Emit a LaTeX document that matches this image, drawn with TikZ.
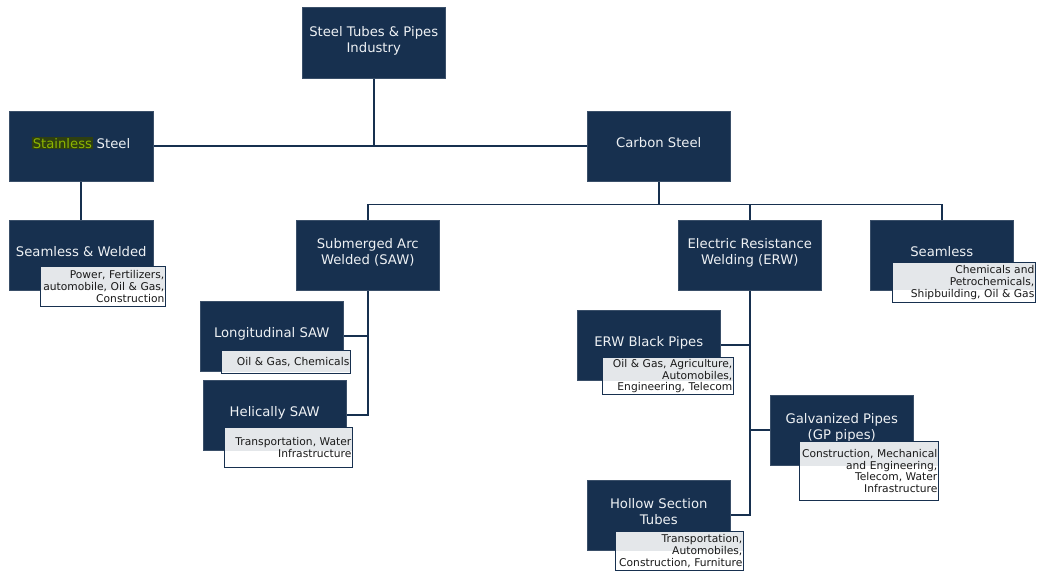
\documentclass[tikz,border=0pt]{standalone}
\usepackage{fontspec}
\setmainfont{DejaVu Sans}
\usetikzlibrary{backgrounds}
\definecolor{navy}{HTML}{17304F}
\definecolor{lgray}{HTML}{E4E7EA}
\definecolor{boxtext}{HTML}{EEF1F4}
\definecolor{hlbg}{HTML}{2F4010}
\definecolor{hlfg}{HTML}{8DB600}
\newcommand{\boxfont}{\fontsize{13.2}{16}\selectfont}
\newcommand{\labfont}{\fontsize{10.7}{11.7}\selectfont}
\newcommand{\rl}[1]{\leavevmode\hbox to \linewidth{\hss #1}}
\tikzset{
  catbox/.style={anchor=north west, fill=navy, draw=navy!85!white, line width=0.5pt,
    text=boxtext, align=center, font=\boxfont, minimum width=143pt, minimum height=70pt,
    inner sep=2pt, text depth=7pt},
  lab/.style n args={3}{anchor=north west, draw=navy, line width=1.1pt, fill=white,
    inner xsep=1.2pt, inner ysep=0pt, align=right, font=\labfont, text=black!90,
    text width=#2pt-2.4pt, minimum height=#3pt,
    path picture={\fill[lgray] (path picture bounding box.north west) rectangle (path picture bounding box.east |- #1.south);}},
  conn/.style={draw=navy, line width=1.6pt}
}
\begin{document}
\begin{tikzpicture}[x=1pt,y=-1pt]
\useasboundingbox (0,0) rectangle (1037,572);
% main boxes
\node[catbox, minimum height=71pt] (top) at (302,7) {Steel Tubes \& Pipes\\Industry};
\node[catbox, minimum width=144pt] (ss) at (9,111) {{\setlength\fboxsep{0.5pt}\colorbox{hlbg}{\textcolor{hlfg}{Stainless}}} Steel};
\node[catbox] (cs) at (587,111) {Carbon Steel};
\node[catbox, minimum width=144pt] (sw) at (9,220) {Seamless \& Welded};
\node[catbox] (saw) at (296,220) {Submerged Arc\\Welded (SAW)};
\node[catbox] (erw) at (678,220) {Electric Resistance\\Welding (ERW)};
\node[catbox] (smls) at (870,220) {Seamless};
\node[catbox] (lsaw) at (200,301) {Longitudinal SAW};
\node[catbox] (hsaw) at (203,380) {Helically SAW};
\node[catbox] (erwb) at (577,310) {ERW Black Pipes};
\node[catbox] (gp) at (770,395) {Galvanized Pipes\\(GP pipes)};
\node[catbox] (hol) at (587,480) {Hollow Section\\Tubes};
% application labels
\node[lab={sw}{125}{40}] (l1) at (40,266) {\rl{Power, Fertilizers,}\\\rl{automobile, Oil \& Gas,}\\\rl{Construction}};
\node[lab={lsaw}{129}{23}] (l2) at (221,350) {\rl{Oil \& Gas, Chemicals}};
\node[lab={hsaw}{128}{40}] (l3) at (224,427) {\rl{Transportation, Water}\\\rl{Infrastructure}};
\node[lab={smls}{143}{40}] (l4) at (892,262) {\rl{Chemicals and}\\\rl{Petrochemicals,}\\\rl{Shipbuilding, Oil \& Gas}};
\node[lab={erwb}{131}{37}] (l5) at (602,357) {\rl{Oil \& Gas, Agriculture,}\\\rl{Automobiles,}\\\rl{Engineering, Telecom}};
\node[lab={gp}{139}{59}] (l6) at (799,441) {\rl{Construction, Mechanical}\\\rl{and Engineering,}\\\rl{Telecom, Water}\\\rl{Infrastructure}};
\node[lab={hol}{128}{39}] (l7) at (615,531) {\rl{Transportation,}\\\rl{Automobiles,}\\\rl{Construction, Furniture}};
% connectors
\begin{pgfonlayer}{background}
\coordinate (cbus) at ([yshift=-23pt]cs.south);
\draw[conn] (ss.east) -- (cs.west);
\draw[conn] (top.south) -- (top.south |- ss.east);
\draw[conn] (ss.south) -- (sw.north);
\draw[conn] (cs.south) -- (cbus);
\draw[conn] (saw.north) |- (cbus) -| (smls.north);
\draw[conn] (erw.north) -- (erw.north |- cbus);
\draw[conn] (saw.south) |- (hsaw.east);
\draw[conn] (lsaw.east) -- (lsaw.east -| saw.south);
\draw[conn] (erw.south) |- (hol.east);
\draw[conn] (erwb.east) -- (erwb.east -| erw.south);
\draw[conn] (gp.west) -- (gp.west -| erw.south);
\end{pgfonlayer}
\end{tikzpicture}
\end{document}
